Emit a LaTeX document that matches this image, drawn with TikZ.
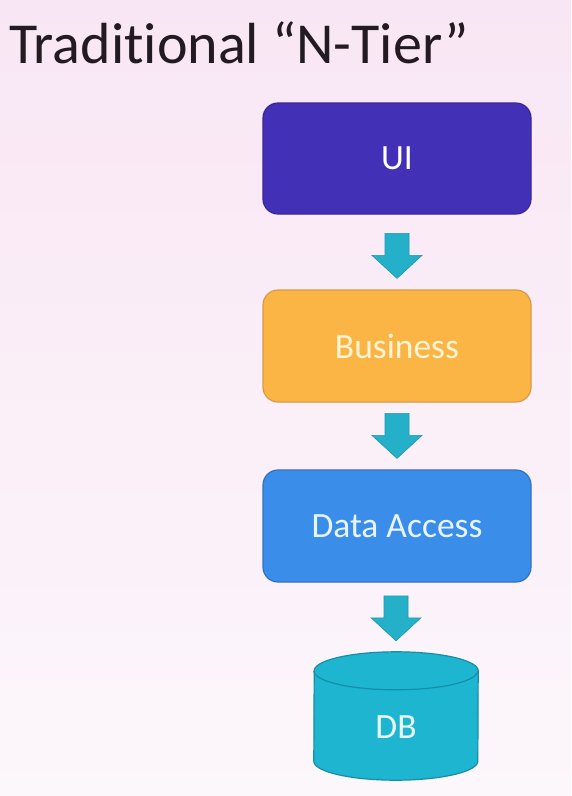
\documentclass[tikz,border=0pt]{standalone}
\usepackage{fontspec}
\setmainfont{Carlito}[Ligatures=NoCommon]
\usetikzlibrary{calc}
\definecolor{bgtop}{HTML}{F9E6F4}
\definecolor{bgbot}{HTML}{FCF7FB}
\definecolor{titlecol}{HTML}{231A22}
\definecolor{uifill}{HTML}{4231B6}
\definecolor{uiline}{HTML}{36279A}
\definecolor{busfill}{HTML}{FBB544}
\definecolor{busline}{HTML}{D99A48}
\definecolor{dafill}{HTML}{3B8DEA}
\definecolor{daline}{HTML}{2F72C4}
\definecolor{arrfill}{HTML}{25B0C9}
\definecolor{arrline}{HTML}{1E98AE}
\definecolor{dbfill}{HTML}{1DB5D0}
\definecolor{dbline}{HTML}{178EA6}
\tikzset{
  tierbox/.style={rectangle, rounded corners=15pt, minimum width=268pt,
    minimum height=111pt, line width=1.2pt, inner sep=0pt,
    font=\fontsize{35.5}{40}\selectfont},
  blockarrow/.style={to path={
    ($(\tikztotarget.north)+(-12,-56)$) -- ($(\tikztotarget.north)+(12,-56)$)
    -- ($(\tikztotarget.north)+(12,-34)$) -- ($(\tikztotarget.north)+(25,-34)$)
    -- ($(\tikztotarget.north)+(0,-11)$) -- ($(\tikztotarget.north)+(-25,-34)$)
    -- ($(\tikztotarget.north)+(-12,-34)$) -- cycle}},
  arrowstyle/.style={fill=arrfill, draw=arrline, line width=0.6pt, line join=miter}
}
\begin{document}
\begin{tikzpicture}[x=1pt,y=-1pt]
\useasboundingbox (0,0) rectangle (571,796);
\shade[top color=bgtop, bottom color=bgbot] (0,0) rectangle (571,796);
\node[anchor=base west, inner sep=0pt, text=titlecol,
  font=\fontsize{58}{66}\selectfont] (title) at (9,63) {Traditional “N-Tier”};
\node[tierbox, fill=uifill, draw=uiline, text=white] (ui) at (397,158.5) {UI};
\node[tierbox, fill=busfill, draw=busline, text={rgb,255:red,255;green,244;blue,214}, minimum height=112pt] (bus) at (397,346) {Business};
\node[tierbox, fill=dafill, draw=daline, text={rgb,255:red,232;green,244;blue,255}, minimum height=112pt] (da) at (397,526) {Data Access};
\node[rectangle, minimum width=164pt, minimum height=128pt, inner sep=0pt] (db) at (396,716) {};
\filldraw[fill=dbfill, draw=dbline, line width=1.2pt]
  ($(db.south west)+(0,-19)$) arc[start angle=180, end angle=360, x radius=82pt, y radius=19pt]
  -- ($(db.north east)+(0,19)$) arc[start angle=0, end angle=180, x radius=82pt, y radius=19pt]
  -- cycle;
\draw[draw=dbline, line width=1.2pt]
  ($(db.north west)+(0,19)$) arc[start angle=180, end angle=360, x radius=82pt, y radius=19pt];
\node[text={rgb,255:red,234;green,248;blue,252}, font=\fontsize{35.5}{40}\selectfont, inner sep=0pt] (dblabel) at ($(db.center)+(0,11)$) {DB};
\path[arrowstyle] (ui) to[blockarrow] (bus);
\path[arrowstyle] (bus) to[blockarrow] (da);
\path[arrowstyle] (da) to[blockarrow] (db);
\end{tikzpicture}
\end{document}
